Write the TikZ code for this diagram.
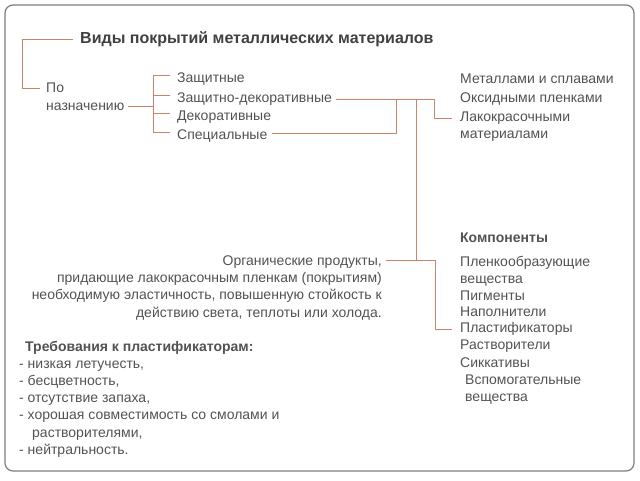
\documentclass[tikz,border=0pt]{standalone}
\usepackage{fontspec}
\setmainfont{Liberation Sans}
\usetikzlibrary{positioning}

\definecolor{linkred}{RGB}{205,130,108}
\definecolor{txtgray}{RGB}{82,82,82}
\definecolor{framegray}{RGB}{125,125,125}

\tikzset{
  link/.style={draw=linkred, line width=0.9pt},
  txt/.style={inner sep=0pt, text=txtgray, anchor=west, font=\fontsize{14}{17.2}\selectfont},
  head/.style={txt, text=black!75, font=\bfseries\fontsize{16}{18}\selectfont},
}

\begin{document}
\begin{tikzpicture}[x=1pt,y=-1pt]
\useasboundingbox (0,0) rectangle (640,480);
\draw[framegray, line width=1.2pt, rounded corners=8pt] (5,5) rectangle (634,471);

% purpose
\node[head] (title) at (80,39) {Виды покрытий металлических материалов};
\node[txt, anchor=north west, align=left, font=\fontsize{14}{18}\selectfont] (purpose) at (46,82.6) {По\\назначению};

\node[txt] (prot) at (177,79) {Защитные};
\node[txt] (protdec) at (177,99) {Защитно-декоративные};
\node[txt] (deco) at (177,117) {Декоративные};
\node[txt] (spec) at (177,136) {Специальные};

\node[txt] (metal) at (460,79) {Металлами и сплавами};
\node[txt] (oxide) at (460,99) {Оксидными пленками};
\node[txt, anchor=north west, align=left] (paint) at (460,111.6) {Лакокрасочными\\материалами};

% components
\node[txt, anchor=north east, align=right] (organ) at (382,255.6)
  {Органические продукты,\\придающие лакокрасочным пленкам (покрытиям)\\необходимую эластичность, повышенную стойкость к\\действию света, теплоты или холода.};

\node[txt, font=\bfseries\fontsize{14}{17}\selectfont] (comp) at (460,238) {Компоненты};
\node[txt, anchor=north west, align=left] (film) at (460,255.6) {Пленкообразующие\\вещества};
\node[txt] (pigm) at (460,296) {Пигменты};
\node[txt] (fill) at (460,312) {Наполнители};
\node[txt] (plast) at (460,329) {Пластификаторы};
\node[txt] (solv) at (460,346) {Растворители};
\node[txt] (sicc) at (460,363) {Сиккативы};
\node[txt, anchor=north west, align=left] (aux) at (465,374.6) {Вспомогательные\\вещества};

\node[txt, anchor=north west, align=left] (req) at (19,340.6)
  {\hspace*{6pt}\textbf{Требования к пластификаторам:}\\
   - низкая летучесть,\\
   - бесцветность,\\
   - отсутствие запаха,\\
   - хорошая совместимость со смолами и\\
   \hspace*{13pt}растворителями,\\
   - нейтральность.};

% connectors
\coordinate (pj) at (153,0);
\coordinate (j1) at (396,99);
\coordinate (j2) at (416,99);
\coordinate (j3) at (434,99);
\coordinate (j4) at (416,260);
\coordinate (j5) at (435,260);

\draw[link] ([xshift=-7pt]title.west) -| ([xshift=-24pt,yshift=-6pt]purpose.north west)
  -- ([xshift=-6pt,yshift=-6pt]purpose.north west);
\path ([xshift=3pt,yshift=4pt]purpose.south east) coordinate (pe);
\draw[link] (pe) -- (pe -| pj);

\draw[link] ([xshift=-7pt,yshift=4pt]prot.west) -| ([xshift=-24pt,yshift=4pt]spec.west)
  -- ([xshift=-7pt,yshift=4pt]spec.west);
\foreach \n in {protdec,deco}
  \draw[link] ([xshift=-7pt,yshift=4pt]\n.west) -- ++(-17,0);

\draw[link] ([xshift=4pt]protdec.east) -- (j3) |- ([xshift=-8pt,yshift=-6.4pt]paint.north west);
\draw[link] ([xshift=4pt,yshift=3pt]spec.east) -| (j1);
\draw[link] (j2) -- (j4);
\draw[link] ([xshift=4pt,yshift=-4.4pt]organ.north east) -- (j5) |- ([xshift=-8pt]plast.west);

\end{tikzpicture}
\end{document}
